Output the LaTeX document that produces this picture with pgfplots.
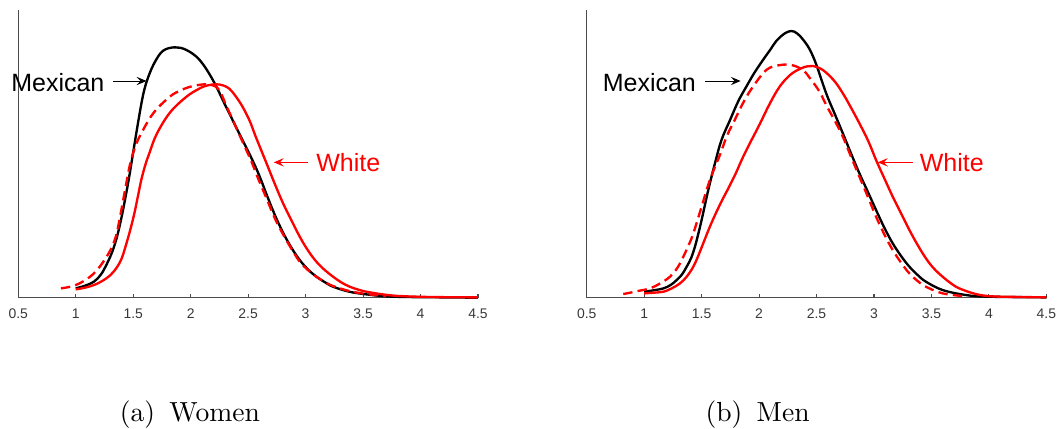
\documentclass[border=0pt]{standalone}
\usepackage{pgfplots}
\pgfplotsset{compat=1.18}
\usepackage{fontspec}
\newfontfamily\arial{Liberation Sans}
\usetikzlibrary{arrows.meta}
\definecolor{axgray}{rgb}{0.3,0.3,0.3}
\definecolor{lblgray}{rgb}{0.22,0.22,0.22}
\pgfplotsset{
  kd/.style={
    scale only axis, width=166.55pt, height=104.24pt,
    xmin=0.5, xmax=4.5, ymin=0, ymax=863,
    axis x line=bottom, axis y line=left,
    axis line style={-, draw=axgray, line width=0.4pt},
    xtick={0.5,1,1.5,2,2.5,3,3.5,4,4.5},
    xticklabels={0.5,1,1.5,2,2.5,3,3.5,4,4.5},
    ytick=\empty,
    tick align=inside, major tick length=1.45pt,
    every tick/.style={draw=axgray, line width=0.4pt},
    xticklabel style={font=\arial\fontsize{5.05}{5.5}\selectfont, text=lblgray, inner sep=0pt, anchor=north, yshift=-3.8pt},
    clip=false,
  },
  blk/.style={black, line width=0.85pt, smooth, tension=0.6},
  wht/.style={red, line width=0.85pt, smooth, tension=0.6},
  cf/.style={red, line width=0.85pt, smooth, tension=0.6, dash pattern=on 3.4pt off 1.9pt},
}
\begin{document}
\begin{tikzpicture}
% ---------------- (a) Women
\begin{axis}[kd, at={(0pt,0pt)}, anchor=south west]
\addplot[blk] coordinates {(1.0,28) (1.08,36) (1.158,48) (1.22,70) (1.273,103) (1.32,140) (1.359,183) (1.39,228) (1.417,273) (1.46,353) (1.503,443) (1.546,533) (1.589,613) (1.632,663) (1.69,708) (1.761,741) (1.862,751) (1.963,743) (2.078,713) (2.193,653) (2.307,573) (2.422,493) (2.523,423) (2.595,368) (2.66,310) (2.73,250) (2.804,195) (2.88,148) (2.949,113) (3.02,85) (3.094,63) (3.17,46) (3.239,33) (3.38,18) (3.529,10) (3.7,4) (3.9,2) (4.2,1) (4.5,0)};
\addplot[wht] coordinates {(1.0,25) (1.08,30) (1.158,38) (1.23,50) (1.302,68) (1.36,92) (1.40,118) (1.43,150) (1.47,198) (1.51,253) (1.54,303) (1.57,353) (1.605,398) (1.64,433) (1.703,490) (1.819,555) (1.964,603) (2.08,628) (2.15,637) (2.221,640) (2.28,637) (2.336,627) (2.39,605) (2.451,573) (2.514,530) (2.566,483) (2.66,403) (2.73,343) (2.804,283) (2.88,230) (2.949,183) (3.02,142) (3.094,108) (3.17,82) (3.239,63) (3.31,46) (3.384,33) (3.46,24) (3.529,18) (3.67,10) (3.819,5) (4.1,2) (4.5,1)};
\addplot[cf] coordinates {(0.871,28) (0.94,32) (1.0,38) (1.08,52) (1.158,73) (1.23,103) (1.302,143) (1.35,185) (1.384,240) (1.43,325) (1.471,398) (1.51,445) (1.558,485) (1.674,553) (1.819,603) (1.92,623) (2.022,635) (2.135,640) (2.221,633) (2.265,612) (2.307,578) (2.36,538) (2.422,490) (2.523,413) (2.59,355) (2.66,298) (2.73,240) (2.804,190) (2.88,145) (2.949,108) (3.02,83) (3.094,63) (3.17,47) (3.239,35) (3.38,20) (3.529,11) (3.7,5)};
\node[anchor=east, inner sep=0pt, font=\arial\fontsize{9.06}{10}\selectfont] at (axis cs:1.254,644) {Mexican};
\draw[black, line width=0.35pt, -{Stealth[length=3.6pt,width=3pt,inset=1.4pt]}] (axis cs:1.326,650) -- (axis cs:1.616,650);
\node[anchor=west, inner sep=0pt, text=red, font=\arial\fontsize{9.06}{10}\selectfont] at (axis cs:3.088,404) {White};
\draw[red, line width=0.35pt, -{Stealth[length=3.6pt,width=3pt,inset=1.4pt]}] (axis cs:3.022,406) -- (axis cs:2.723,406);
\end{axis}
% ---------------- (b) Men
\begin{axis}[kd, at={(205.93pt,0pt)}, anchor=south west]
\addplot[blk] coordinates {(1.0,18) (1.08,22) (1.168,28) (1.23,38) (1.283,53) (1.33,70) (1.37,93) (1.41,120) (1.442,153) (1.47,190) (1.5,233) (1.558,323) (1.616,403) (1.673,473) (1.75,535) (1.82,590) (1.889,633) (1.96,675) (2.034,713) (2.1,745) (2.15,770) (2.22,792) (2.28,800) (2.33,793) (2.381,775) (2.44,745) (2.497,700) (2.584,613) (2.66,550) (2.729,493) (2.8,433) (2.873,373) (2.95,315) (3.018,263) (3.09,210) (3.163,163) (3.24,123) (3.308,93) (3.38,68) (3.452,48) (3.597,23) (3.8,8) (4.0,3) (4.5,1)};
\addplot[wht] coordinates {(1.0,13) (1.08,15) (1.168,18) (1.24,28) (1.312,43) (1.37,63) (1.428,93) (1.47,125) (1.514,163) (1.56,203) (1.61,243) (1.675,290) (1.74,333) (1.8,375) (1.855,418) (1.93,470) (2.005,520) (2.09,580) (2.179,633) (2.27,668) (2.353,686) (2.42,694) (2.468,695) (2.53,688) (2.584,675) (2.66,648) (2.729,613) (2.8,570) (2.873,523) (2.95,470) (3.018,413) (3.09,358) (3.163,303) (3.24,250) (3.308,203) (3.38,158) (3.452,118) (3.52,88) (3.597,63) (3.67,43) (3.742,28) (3.886,11) (4.031,4) (4.3,2) (4.5,1)};
\addplot[cf] coordinates {(0.818,11) (0.879,15) (0.96,21) (1.052,28) (1.14,43) (1.225,63) (1.29,90) (1.341,123) (1.39,160) (1.428,193) (1.5,273) (1.572,353) (1.659,428) (1.72,485) (1.788,533) (1.87,590) (1.947,633) (2.063,683) (2.17,697) (2.28,698) (2.381,683) (2.45,655) (2.526,618) (2.584,578) (2.66,530) (2.729,483) (2.8,423) (2.873,363) (2.95,300) (3.018,243) (3.09,190) (3.163,143) (3.24,103) (3.308,73) (3.38,50) (3.452,33) (3.597,13) (3.8,4)};
\node[anchor=east, inner sep=0pt, font=\arial\fontsize{9.06}{10}\selectfont] at (axis cs:1.455,644) {Mexican};
\draw[black, line width=0.35pt, -{Stealth[length=3.6pt,width=3pt,inset=1.4pt]}] (axis cs:1.533,650) -- (axis cs:1.840,650);
\node[anchor=west, inner sep=0pt, text=red, font=\arial\fontsize{9.06}{10}\selectfont] at (axis cs:3.394,404) {White};
\draw[red, line width=0.35pt, -{Stealth[length=3.6pt,width=3pt,inset=1.4pt]}] (axis cs:3.336,406) -- (axis cs:3.033,406);
\end{axis}
\node[anchor=base west, inner sep=0pt] at (36.59pt,-44.93pt) {(a)\hspace{5.2pt}Women};
\node[anchor=base west, inner sep=0pt] at (248.79pt,-44.93pt) {(b)\hspace{5.2pt}Men};
\pgfresetboundingbox
\useasboundingbox (-6.63pt,-47.21pt) rectangle (377.05pt,107.86pt);
\end{tikzpicture}
\end{document}
